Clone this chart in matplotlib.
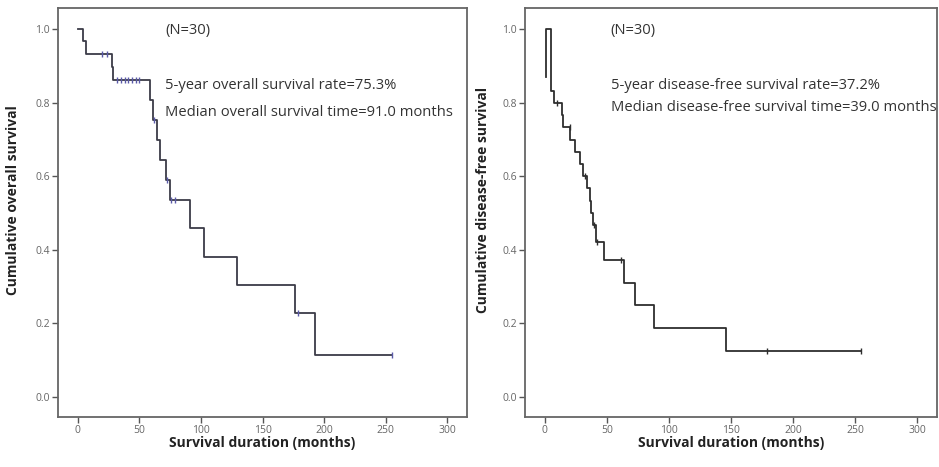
"""Kaplan-Meier curves: overall survival and disease-free survival (N=30)."""
import matplotlib
matplotlib.use("Agg")
import matplotlib.pyplot as plt

# --- overall survival: step path ---
os_time = [0, 4, 7, 27.6, 29, 59, 61, 64, 67, 72, 75, 91, 102.5, 129, 176.4, 192.6, 255]
os_surv = [1.0, 0.967, 0.933, 0.897, 0.861, 0.807, 0.753, 0.700, 0.645, 0.590,
           0.535, 0.458, 0.381, 0.304, 0.229, 0.115, 0.115]
os_cens_time = [19.5, 23.5, 32, 35, 38, 41, 44, 47, 50, 62, 72.5, 76, 79, 179, 255]
os_cens_surv = [0.933, 0.933, 0.861, 0.861, 0.861, 0.861, 0.861, 0.861, 0.861,
                0.753, 0.590, 0.535, 0.535, 0.229, 0.115]

# --- disease-free survival ---
dfs_time = [1.3, 1.3, 4.9, 7, 13.5, 15, 20.3, 24.3, 28, 31, 34, 36, 37.5, 39, 41,
            48, 63.5, 72.5, 87.8, 146, 254.5]
dfs_surv = [0.870, 1.0, 0.833, 0.800, 0.767, 0.733, 0.700, 0.667, 0.633, 0.600,
            0.567, 0.533, 0.500, 0.467, 0.420, 0.372, 0.310, 0.249, 0.187, 0.125, 0.125]
dfs_cens_time = [10, 20, 32, 39.5, 42, 61, 179, 254.5]
dfs_cens_surv = [0.800, 0.733, 0.600, 0.467, 0.420, 0.372, 0.125, 0.125]

xticks = [0, 50, 100, 150, 200, 250, 300]
yticks = [0.0, 0.2, 0.4, 0.6, 0.8, 1.0]

panels = [
    dict(time=os_time, surv=os_surv, ct=os_cens_time, cs=os_cens_surv,
         ylabel="Cumulative overall survival",
         lines=["(N=30)", "5-year overall survival rate=75.3%",
                "Median overall survival time=91.0 months"],
         text_x=71, text_y=[0.998, 0.848, 0.774],
         line_color="#3c3c48", cens_color="#5a5aa8", ylab_x=-0.092,
         rect=[58 / 939, 50 / 467, 409 / 939, 409 / 467]),
    dict(time=dfs_time, surv=dfs_surv, ct=dfs_cens_time, cs=dfs_cens_surv,
         ylabel="Cumulative disease-free survival",
         lines=["(N=30)", "5-year disease-free survival rate=37.2%",
                "Median disease-free survival time=39.0 months"],
         text_x=53, text_y=[0.998, 0.848, 0.788],
         line_color="#2e2e2e", cens_color="#2e2e2e", ylab_x=-0.086,
         rect=[525 / 939, 50 / 467, 412 / 939, 409 / 467]),
]

plt.rcParams["font.family"] = ["Open Sans", "DejaVu Sans"]

fig = plt.figure(figsize=(9.39, 4.67), dpi=100)
for p in panels:
    ax = fig.add_axes(p["rect"])
    ax.plot(p["time"], p["surv"], drawstyle="steps-post", color=p["line_color"], lw=1.3)
    ax.plot(p["ct"], p["cs"], ls="none", marker="|", ms=5, mew=1.0, color=p["cens_color"])
    for s, y in zip(p["lines"], p["text_y"]):
        ax.text(p["text_x"], y, s, fontsize=10.6, color="#333333", va="center", ha="left")
    ax.set_xlim(-16, 316)
    ax.set_ylim(-0.055, 1.058)
    ax.set_xticks(xticks)
    ax.set_yticks(yticks)
    ax.set_yticklabels([f"{v:.1f}" for v in yticks])
    ax.tick_params(direction="out", length=4, width=1, color="#555555",
                   labelcolor="#666666", labelsize=7.5, pad=2)
    for sp in ax.spines.values():
        sp.set_color("#666666")
        sp.set_linewidth(1.3)
    ax.set_xlabel("Survival duration (months)", fontsize=10, fontweight="bold",
                  color="#222222", labelpad=0)
    ax.set_ylabel(p["ylabel"], fontsize=10, fontweight="bold", color="#222222")
    ax.yaxis.set_label_coords(p["ylab_x"], 0.53)

fig.savefig("out.png", dpi=100)
